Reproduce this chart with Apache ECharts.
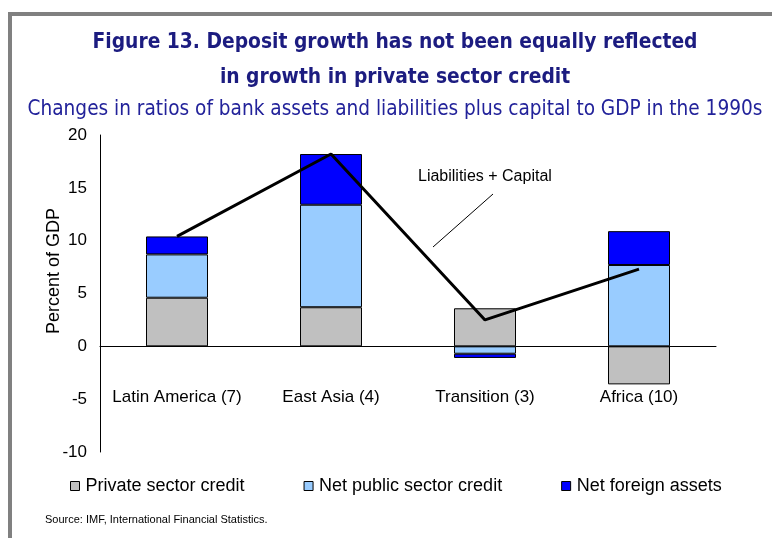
<!DOCTYPE html>
<html>
<head>
<meta charset="utf-8">
<script src="https://cdn.jsdelivr.net/npm/echarts@6/dist/echarts.min.js"></script>
<style>
  html, body { margin: 0; padding: 0; background: #fff; }
  #chart { width: 772px; height: 538px; }
</style>
</head>
<body>
<div id="chart"></div>
<script>
// regions along the x axis
var categories = ['Latin America (7)', 'East Asia (4)', 'Transition (3)', 'Africa (10)']
// stacked components, percent of GDP
var privateCredit = [4.6, 3.7, 3.6, -3.6]
var publicCredit = [4.1, 9.7, -0.7, 7.7]
var foreignAssets = [1.7, 4.8, -0.4, 3.2]
// liabilities + capital line
var liabCapital = [10.4, 18.2, 2.5, 7.3]
var yTicks = [-10, 20, 5]  // min, max, step

var myChart = echarts.init(document.getElementById('chart'))

var barBorder = { borderColor: '#000', borderWidth: 1 }

myChart.setOption({
  animation: false,
  textStyle: { fontFamily: 'Liberation Sans' },
  title: [
    {
      text: 'Figure 13. Deposit growth has not been equally reflected\nin growth in private sector credit',
      left: 395,
      textAlign: 'center',
      top: 25,
      padding: 0,
      textStyle: {
        fontFamily: 'DejaVu Sans Condensed',
        fontWeight: 'bold',
        fontSize: 20.8,
        lineHeight: 35,
        color: '#1c1c80'
      }
    },
    {
      text: 'Changes in ratios of bank assets and liabilities plus capital to GDP in the 1990s',
      left: 395,
      textAlign: 'center',
      top: 99,
      padding: 0,
      textStyle: {
        fontFamily: 'DejaVu Sans Condensed',
        fontWeight: 'normal',
        fontSize: 20.6,
        color: '#22229a'
      }
    }
  ],
  grid: { left: 100, right: 56, top: 135, bottom: 86 },
  legend: {
    data: ['Private sector credit', 'Net public sector credit', 'Net foreign assets'],
    left: 65,
    top: 472,
    icon: 'rect',
    itemWidth: 9,
    itemHeight: 9,
    itemGap: 59,
    itemStyle: { borderColor: '#000', borderWidth: 1 },
    textStyle: { fontFamily: 'Liberation Sans', fontSize: 18, color: '#000', padding: [0, 0, 0, 1] }
  },
  xAxis: {
    type: 'category',
    data: categories,
    axisLine: { onZero: true, lineStyle: { color: '#000', width: 1 } },
    axisTick: { show: false },
    // labels sit about halfway down the negative part, as in the original
    axisLabel: { interval: 0, margin: -63, fontSize: 17, color: '#000', fontFamily: 'Liberation Sans' }
  },
  yAxis: {
    type: 'value',
    min: yTicks[0],
    max: yTicks[1],
    interval: yTicks[2],
    axisLine: { show: true, lineStyle: { color: '#000', width: 1 } },
    axisTick: { show: false },
    splitLine: { show: false },
    axisLabel: { margin: 13, fontSize: 17, color: '#000', fontFamily: 'Liberation Sans' }
  },
  series: [
    {
      name: 'Private sector credit',
      type: 'bar',
      stack: 'assets',
      barWidth: 62,
      itemStyle: Object.assign({ color: '#c0c0c0' }, barBorder),
      data: privateCredit
    },
    {
      name: 'Net public sector credit',
      type: 'bar',
      stack: 'assets',
      barWidth: 62,
      itemStyle: Object.assign({ color: '#99ccff' }, barBorder),
      data: publicCredit
    },
    {
      name: 'Net foreign assets',
      type: 'bar',
      stack: 'assets',
      barWidth: 62,
      itemStyle: Object.assign({ color: '#0000ff' }, barBorder),
      data: foreignAssets
    },
    {
      name: 'Liabilities + Capital',
      type: 'line',
      symbol: 'none',
      lineStyle: { color: '#000', width: 3 },
      z: 5,
      data: liabCapital
    }
  ],
  graphic: [
    // grey frame, top and left
    { type: 'rect', shape: { x: 8, y: 12, width: 764, height: 4 }, style: { fill: '#808080' } },
    { type: 'rect', shape: { x: 8, y: 12, width: 4, height: 526 }, style: { fill: '#808080' } },
    // y axis name
    {
      type: 'text', x: 54, y: 271, rotation: Math.PI / 2,
      style: { text: 'Percent of GDP', font: '18px "Liberation Sans"', fill: '#000', align: 'center', verticalAlign: 'middle' }
    },
    // annotation for the line
    {
      type: 'text', x: 418, y: 177,
      style: { text: 'Liabilities + Capital', font: '16px "Liberation Sans"', fill: '#000', verticalAlign: 'middle' }
    },
    { type: 'line', shape: { x1: 493, y1: 194, x2: 433, y2: 247 }, style: { stroke: '#000', lineWidth: 1 } },
    // source note
    {
      type: 'text', x: 45, y: 520,
      style: { text: 'Source: IMF, International Financial Statistics.', font: '11px "Liberation Sans"', fill: '#000', verticalAlign: 'middle' }
    }
  ]
})
</script>
</body>
</html>
